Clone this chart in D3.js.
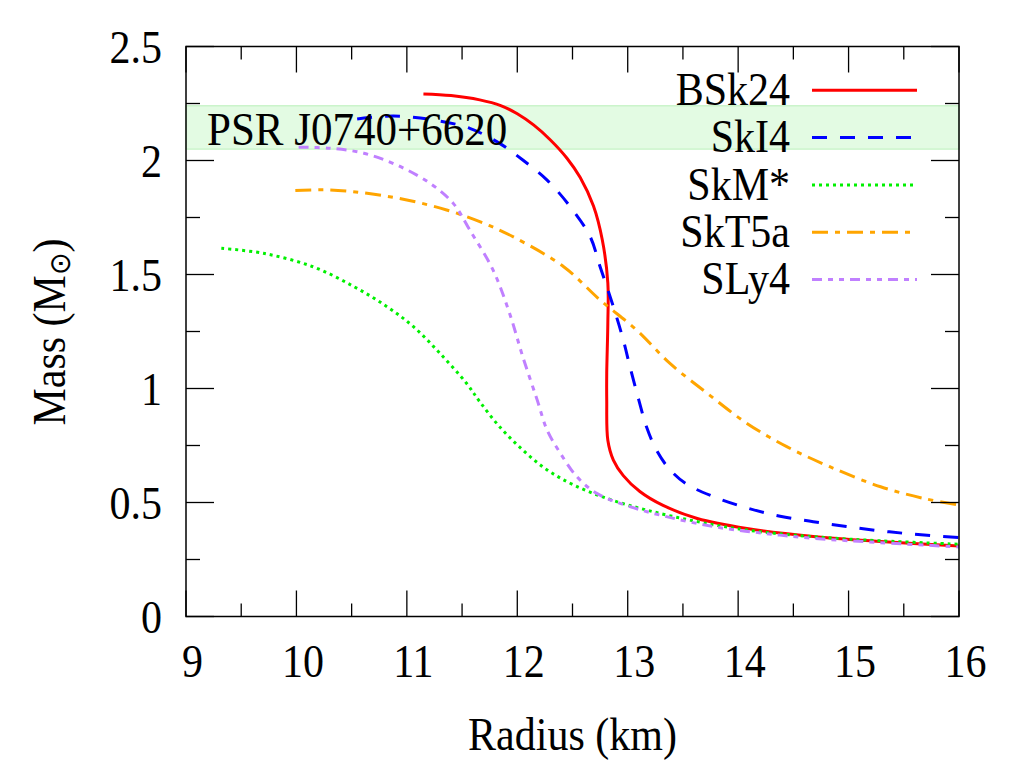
<!DOCTYPE html>
<html>
<head>
<meta charset="utf-8">
<script src="https://cdn.jsdelivr.net/npm/d3@7"></script>
<style>
  html, body { margin: 0; padding: 0; background: #fff; }
  text { font-family: "Liberation Serif", "Times New Roman", serif; fill: #000; }
</style>
</head>
<body>
<svg id="chart" width="1024" height="768"></svg>
<script>
// ---- data (radius km, mass Msun) ----
const seriesNames = ["BSk24", "SkI4", "SkM*", "SkT5a", "SLy4"];
const seriesColors = ["#ff0000", "#0000ff", "#00f000", "#ffa500", "#c080ff"];
const seriesDashes = [null, "15,13", "3,4", "16,7,5,7", "10,6,5,6,5,6"];

const bsk24R = [11.15, 11.40, 11.66, 11.85, 12.00, 12.15, 12.30, 12.45, 12.57, 12.69, 12.77, 12.82, 12.82, 12.81, 12.81, 12.82, 12.87, 12.96, 13.11, 13.32, 13.63, 14.08, 14.68, 15.29, 16.0];
const bsk24M = [2.292, 2.285, 2.266, 2.241, 2.205, 2.155, 2.090, 2.010, 1.925, 1.800, 1.651, 1.463, 1.288, 1.068, 0.949, 0.773, 0.686, 0.618, 0.548, 0.487, 0.430, 0.386, 0.351, 0.329, 0.309];

const ski4R = [10.55, 10.88, 11.24, 11.57, 11.84, 12.05, 12.27, 12.48, 12.66, 12.75, 12.87, 12.96, 13.02, 13.10, 13.17, 13.26, 13.38, 13.53, 13.78, 14.08, 14.38, 14.68, 14.98, 15.28, 15.59, 16.0];
const ski4M = [2.182, 2.195, 2.178, 2.141, 2.075, 2.002, 1.914, 1.797, 1.666, 1.534, 1.359, 1.213, 1.096, 0.950, 0.832, 0.730, 0.645, 0.582, 0.525, 0.476, 0.440, 0.416, 0.395, 0.376, 0.361, 0.346];

const skmR = [9.32, 9.70, 10.15, 10.52, 10.82, 11.06, 11.30, 11.54, 11.66, 11.84, 12.05, 12.27, 12.51, 12.81, 13.17, 13.63, 14.08, 14.68, 15.29, 16.0];
const skmM = [1.615, 1.593, 1.534, 1.447, 1.359, 1.271, 1.154, 1.023, 0.942, 0.832, 0.730, 0.643, 0.577, 0.518, 0.467, 0.416, 0.379, 0.350, 0.332, 0.317];

const skt5aR = [9.99, 10.30, 10.64, 11.00, 11.36, 11.66, 11.96, 12.42, 12.75, 13.08, 13.38, 13.72, 14.08, 14.44, 14.83, 15.29, 15.68, 16.0];
const skt5aM = [1.868, 1.871, 1.856, 1.827, 1.783, 1.732, 1.666, 1.534, 1.388, 1.257, 1.111, 0.979, 0.847, 0.745, 0.657, 0.569, 0.518, 0.489];

const sly4R = [10.02, 10.30, 10.61, 10.91, 11.21, 11.42, 11.57, 11.78, 11.93, 12.05, 12.18, 12.27, 12.39, 12.54, 12.72, 13.02, 13.35, 13.78, 14.23, 14.68, 15.29, 16.0];
const sly4M = [2.058, 2.054, 2.032, 1.980, 1.900, 1.812, 1.695, 1.520, 1.330, 1.139, 0.950, 0.818, 0.716, 0.613, 0.540, 0.482, 0.438, 0.394, 0.365, 0.343, 0.324, 0.305];

const xTicks = [9, 10, 11, 12, 13, 14, 15, 16];
const yTicks = [0, 0.5, 1, 1.5, 2, 2.5];
const yTickLabels = ["0", "0.5", "1", "1.5", "2", "2.5"];
const band = [2.05, 2.24];
const bandLabel = "PSR J0740+6620";

const allR = [bsk24R, ski4R, skmR, skt5aR, sly4R];
const allM = [bsk24M, ski4M, skmM, skt5aM, sly4M];

// ---- layout ----
const L = 186, R = 959, T = 46.5, B = 616.5;
const FS = 42, SY = 1.08;
const svg = d3.select("#chart");
const x = d3.scaleLinear().domain([9, 16]).range([L, R]);
const y = d3.scaleLinear().domain([0, 2.5]).range([B, T]);

function label(parent, px, py, str, anchor, size) {
  return parent.append("text")
    .attr("transform", `translate(${px},${py}) scale(1,${SY})`)
    .attr("text-anchor", anchor || "start")
    .style("font-size", (size || FS) + "px")
    .text(str);
}

svg.append("defs").append("clipPath").attr("id", "clip")
  .append("rect").attr("x", L).attr("y", T).attr("width", R - L).attr("height", B - T);

// band
svg.append("rect")
  .attr("x", L).attr("width", R - L)
  .attr("y", y(band[1])).attr("height", y(band[0]) - y(band[1]))
  .attr("fill", "#e3fbe3").attr("stroke", "#c2f2c2").attr("stroke-width", 1.2);

// curves
const line = d3.line().x(d => x(d[0])).y(d => y(d[1])).curve(d3.curveCatmullRom.alpha(0.5));
const g = svg.append("g").attr("clip-path", "url(#clip)");
seriesNames.forEach((name, i) => {
  const pts = allR[i].map((r, j) => [r, allM[i][j]]);
  g.append("path").datum(pts)
    .attr("d", line)
    .attr("fill", "none")
    .attr("stroke", seriesColors[i])
    .attr("stroke-width", 3)
    .attr("stroke-dasharray", seriesDashes[i]);
});

// band label
label(svg, 207, 145, bandLabel, "start", 43);

// ticks (mirrored, inward)
const tk = svg.append("g").attr("stroke", "#000").attr("stroke-width", 1.3);
d3.range(9, 16.01, 0.5).forEach(v => {
  const major = Math.abs(v - Math.round(v)) < 1e-6;
  const len = major ? 26 : 13;
  tk.append("line").attr("x1", x(v)).attr("x2", x(v)).attr("y1", B).attr("y2", B - len);
  tk.append("line").attr("x1", x(v)).attr("x2", x(v)).attr("y1", T).attr("y2", T + len);
});
d3.range(0, 2.501, 0.25).forEach(v => {
  const major = Math.abs(v * 2 - Math.round(v * 2)) < 1e-6;
  const len = major ? 28 : 14;
  tk.append("line").attr("y1", y(v)).attr("y2", y(v)).attr("x1", L).attr("x2", L + len);
  tk.append("line").attr("y1", y(v)).attr("y2", y(v)).attr("x1", R).attr("x2", R - len);
});

// tick labels through axes
const xAxis = d3.axisBottom(x).tickValues(xTicks).tickSize(0).tickPadding(0).tickFormat(d3.format("d"));
const xa = svg.append("g").attr("transform", `translate(6,${B + 60})`).call(xAxis);
xa.select(".domain").remove();
xa.selectAll("text").attr("dy", 0).attr("y", 0).attr("transform", `scale(1,${SY})`)
  .style("font-size", FS + "px")
  .style("font-family", "Liberation Serif, serif").attr("fill", "#000");

const yAxis = d3.axisLeft(y).tickValues(yTicks).tickSize(0).tickPadding(0)
  .tickFormat((d, i) => yTickLabels[i]);
const ya = svg.append("g").attr("transform", `translate(162,0)`).call(yAxis);
ya.select(".domain").remove();
ya.selectAll("text").attr("dy", 0).attr("x", 0).attr("y", 0)
  .attr("transform", `translate(0,16) scale(1,${SY})`)
  .style("font-size", FS + "px")
  .style("font-family", "Liberation Serif, serif").attr("fill", "#000");

// frame
svg.append("rect").attr("x", L).attr("y", T).attr("width", R - L).attr("height", B - T)
  .attr("fill", "none").attr("stroke", "#000").attr("stroke-width", 1.5);

// axis titles
label(svg, (L + R) / 2, 750, "Radius (km)", "middle");

const yt = svg.append("text").attr("transform", `translate(65,332) rotate(-90) scale(1,${SY})`)
  .attr("text-anchor", "middle").style("font-size", FS + "px");
yt.append("tspan").text("Mass (M");
yt.append("tspan").attr("dy", 5).style("font-size", "27px")
  .style("font-family", "DejaVu Sans, sans-serif").text("\u2299");
yt.append("tspan").attr("dy", -5).text(")");

// legend
const lg = svg.append("g");
seriesNames.forEach((name, i) => {
  const ry = 90.3 + i * 47.3;
  label(lg, 790, ry + 14.7, name, "end");
  lg.append("line").attr("x1", 812).attr("x2", 917).attr("y1", ry).attr("y2", ry)
    .attr("stroke", seriesColors[i]).attr("stroke-width", 3)
    .attr("stroke-dasharray", seriesDashes[i]);
});
</script>
</body>
</html>
